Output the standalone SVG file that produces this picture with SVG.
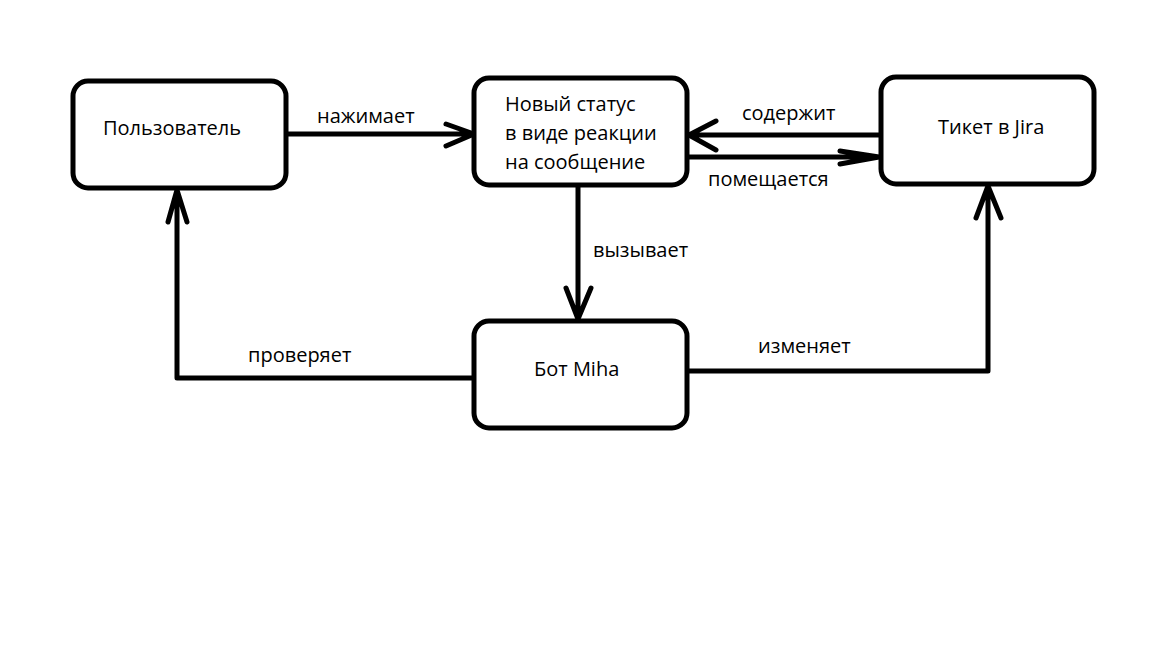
<svg xmlns="http://www.w3.org/2000/svg" width="1152" height="648" viewBox="0 0 1152 648">
<style>
.box{fill:#fff;stroke:#000;stroke-width:5}
.ln{fill:none;stroke:#000;stroke-width:5;stroke-linecap:round;stroke-linejoin:round}
text{font-family:"Open Sans","Liberation Sans",sans-serif;font-size:20px;fill:#000}
</style>
<rect width="1152" height="648" fill="#fff"/>
<g id="connectors">
<path class="ln" d="M286 134 H474 M446 124 L474 134 L446 146"/>
<path class="ln" d="M881 135 H689 M716 121 L689 135 L716 150"/>
<path class="ln" d="M687 157 H879 M840 151 L879 157 L840 164"/>
<path class="ln" d="M578 185 V319 M566 288 L578 319 L591 288"/>
<path class="ln" d="M474 378 H177 V190 M168 222 L177 190 L187 222"/>
<path class="ln" d="M687 371 H988 V186 M976 218 L988 186 L1001 218"/>
</g>
<g id="n1"><rect class="box" x="73" y="81" width="213" height="107" rx="15"/><text x="103" y="135">Пользователь</text></g>
<g id="n2"><rect class="box" x="474" y="78" width="213" height="107" rx="15"/><text x="505" y="111">Новый статус</text><text x="505" y="140">в виде реакции</text><text x="505" y="169">на сообщение</text></g>
<g id="n3"><rect class="box" x="881" y="77" width="213" height="107" rx="15"/><text x="938" y="134">Тикет в Jira</text></g>
<g id="n4"><rect class="box" x="474" y="321" width="213" height="107" rx="15"/><text x="534" y="376">Бот Miha</text></g>
<g id="labels">
<text x="317" y="123">нажимает</text>
<text x="742" y="120">содержит</text>
<text x="708" y="186">помещается</text>
<text x="593" y="257">вызывает</text>
<text x="248" y="362">проверяет</text>
<text x="758" y="353">изменяет</text>
</g>
</svg>
